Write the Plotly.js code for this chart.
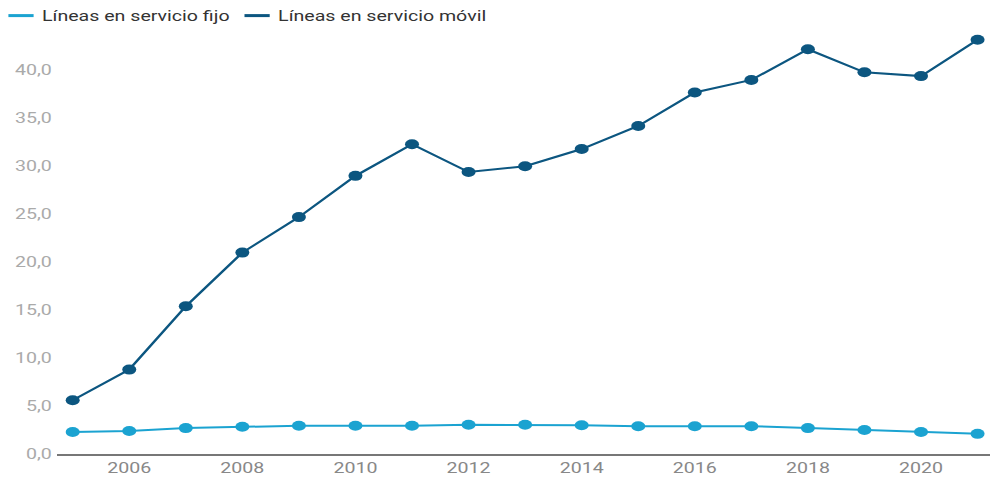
<!DOCTYPE html>
<html>
<head>
<meta charset="utf-8">
<script src="https://cdn.plot.ly/plotly-3.0.1.min.js"></script>
<style>
html,body{margin:0;padding:0;background:#fff;overflow:hidden;}
#wrap{width:990px;height:478px;overflow:hidden;}
#chart{width:707px;height:478px;transform:scaleX(1.4003);transform-origin:0 0;}
</style>
</head>
<body>
<div id="wrap"><div id="chart"></div></div>
<script>
const years = [2005,2006,2007,2008,2009,2010,2011,2012,2013,2014,2015,2016,2017,2018,2019,2020,2021];
const fijo = [2.3,2.4,2.7,2.85,2.95,2.95,2.95,3.05,3.05,3.0,2.9,2.9,2.9,2.7,2.5,2.3,2.1];
const movil = [5.6,8.8,15.4,21.0,24.7,29.0,32.3,29.4,30.0,31.8,34.2,37.7,39.0,42.2,39.8,39.4,43.2];
const seriesNames = ['Líneas en servicio fijo','Líneas en servicio móvil'];
const yTicks = [0,5,10,15,20,25,30,35,40];
const yTickText = ['0,0','5,0','10,0','15,0','20,0','25,0','30,0','35,0','40,0'];
const xTicks = [2006,2008,2010,2012,2014,2016,2018,2020];

const traces = [
  {x: years, y: fijo, name: seriesNames[0], type:'scatter', mode:'lines+markers',
   line:{color:'#1ba3d1', width:2}, marker:{color:'#1ba3d1', size:10}},
  {x: years, y: movil, name: seriesNames[1], type:'scatter', mode:'lines+markers',
   line:{color:'#0c5680', width:2}, marker:{color:'#0c5680', size:10}}
];
const layout = {
  width:707, height:478,
  margin:{l:41, r:0, t:28, b:24},
  paper_bgcolor:'#fff', plot_bgcolor:'#fff',
  font:{family:'Roboto, sans-serif'},
  showlegend:true,
  legend:{orientation:'h', x:0, y:1, xref:'container', yref:'container', xanchor:'left', yanchor:'top',
          font:{size:14, color:'#333'}, traceorder:'normal', bgcolor:'rgba(0,0,0,0)'},
  xaxis:{range:[2004.73, 2021.22], tickvals:xTicks, ticktext:xTicks.map(String), showgrid:false, zeroline:false,
         showline:true, linecolor:'#777', linewidth:2, ticks:'', tickfont:{size:14, color:'#888'}},
  yaxis:{range:[0,44], tickvals:yTicks, ticktext:yTickText, showgrid:false, zeroline:false,
         showline:false, ticks:'', tickfont:{size:14, color:'#aaa'}, ticklabelstandoff:3}
};
const legendItemX = [0, 168.6];
Plotly.newPlot('chart', traces, layout, {displayModeBar:false, staticPlot:true}).then(function(){
  // legend: short line symbol only, tighter spacing (as in reference)
  document.querySelectorAll('.legend .legendpoints .scatterpts').forEach(function(p){ p.style.display='none'; });
  document.querySelectorAll('.legend .legendlines path').forEach(function(p){ p.setAttribute('d','M6,0h18'); p.style.strokeWidth='3px'; });
  document.querySelectorAll('.legend .legendtext').forEach(function(t){ t.setAttribute('x', 30); });
  document.querySelectorAll('.legend .traces').forEach(function(g, i){
    const tr = g.getAttribute('transform') || '';
    const m = tr.match(/translate\(\s*([-\d.e]+)[ ,]+([-\d.e]+)\s*\)/);
    const y = m ? m[2] : 0;
    g.setAttribute('transform', 'translate(' + legendItemX[i] + ',' + y + ')');
  });
});
</script>
</body>
</html>
